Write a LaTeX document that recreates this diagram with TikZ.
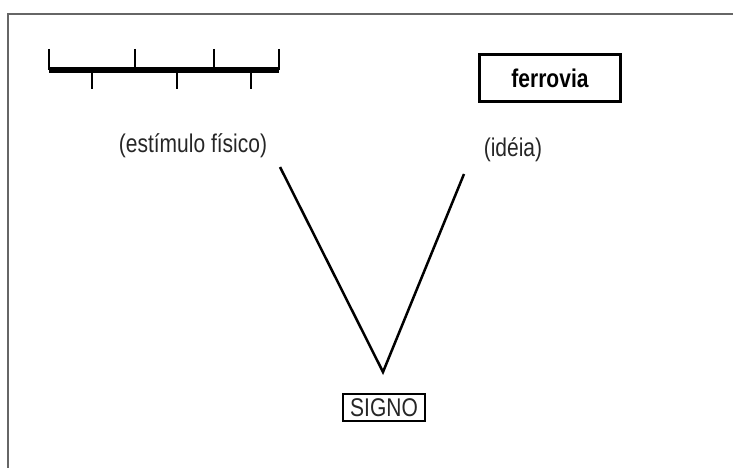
\documentclass[tikz,border=0pt]{standalone}
\usepackage{fontspec}
\setmainfont{Liberation Sans}
\newcommand{\tall}[1]{\scalebox{1}[1.22]{#1}}
\begin{document}
\begin{tikzpicture}[x=1pt,y=-1pt,
    lbl/.style={text=black!85,font=\fontsize{21}{24}\selectfont,inner sep=0pt},
    box/.style={rectangle,draw,inner sep=0pt,align=center}]
\useasboundingbox (0,0) rectangle (733,468);
\draw[line width=2pt,black!60] (8,468) -- (8,14) -- (733,14);
% ruler
\draw[line width=6pt] (49,70) -- (279,70);
\foreach \x in {49,135,214,279} \draw[line width=2.5pt] (\x,49) -- (\x,70);
\foreach \x in {92,177,251} \draw[line width=2.5pt] (\x,70) -- (\x,89);
\node[box,line width=2.8pt,minimum width=141pt,minimum height=47pt,font=\bfseries\fontsize{21}{24}\selectfont] (ferro) at (550,78) {\tall{ferrovia}};
\node[lbl] (fis) at (193,146) {\tall{(estímulo físico)}};
\node[lbl] (ideia) at (513,150) {\tall{(idéia)}};
\node[box,line width=2.5pt,minimum width=82pt,minimum height=27pt,text=black!85,font=\fontsize{21}{24}\selectfont] (signo) at (384,407.5) {\tall{SIGNO}};
\coordinate (fisend) at (280,167);
\coordinate (ideiaend) at (464,174);
\coordinate (apex) at (383,372);
\draw[line width=2.5pt] (fisend) -- (apex) -- (ideiaend);
\end{tikzpicture}
\end{document}
